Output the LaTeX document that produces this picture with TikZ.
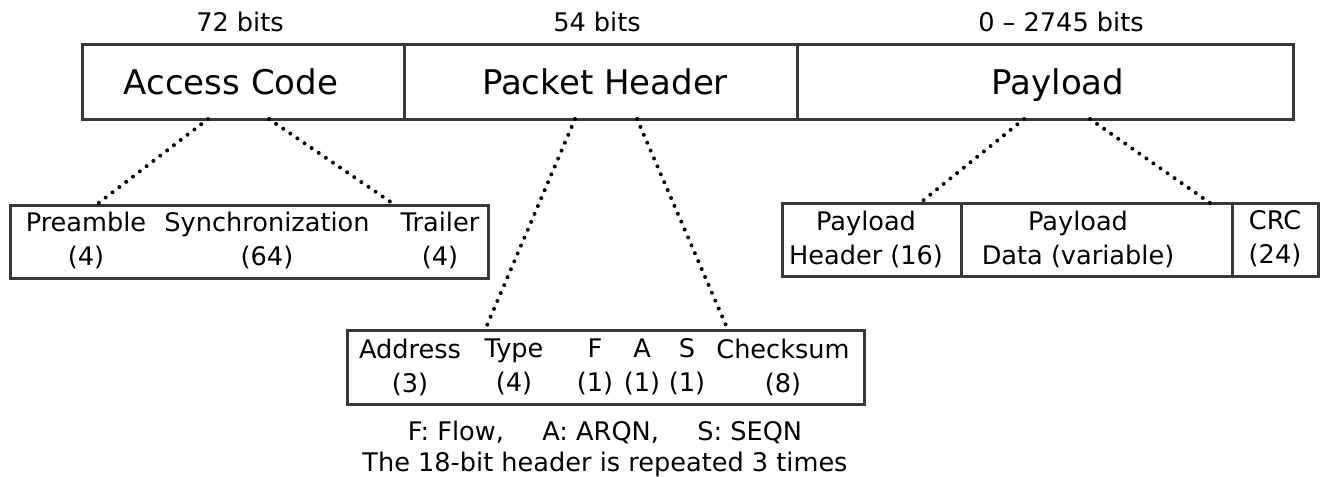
\documentclass[tikz,border=0pt]{standalone}
\usepackage{fontspec}
\setmainfont{DejaVu Sans}
\usetikzlibrary{positioning}

\tikzset{
  cell/.style={draw=black!78, line width=1.5pt, minimum height=37pt, inner sep=0pt},
  field/.style={align=center, font=\fontsize{12.8}{17}\selectfont},
  big/.style={font=\fontsize{17}{20}\selectfont},
  bits/.style={font=\fontsize{12.8}{15}\selectfont},
  note/.style={align=center, font=\fontsize{12.8}{15.2}\selectfont},
  dots/.style={line width=2pt, line cap=round, dash pattern=on 0pt off 4.3pt},
}

\begin{document}
\begin{tikzpicture}[x=0.5pt, y=-0.5pt]
  \useasboundingbox (0,0) rectangle (1320,476);

  %% Top row: the three parts of the packet
  \node[cell, minimum width=161pt]   (ac) at (243,82)    {};
  \node[cell, minimum width=196.5pt] (ph) at (600.5,82)  {};
  \node[cell, minimum width=248pt]   (pl) at (1045,82)   {};
  \node[big, anchor=base] (ac-t) at (231,95)  {Access Code};
  \node[big, anchor=base] (ph-t) at (605,95)  {Packet Header};
  \node[big, anchor=base] (pl-t) at (1058,95) {Payload};

  %% Sizes above the top row
  \node[bits, anchor=base] (ac-n) at (240,32)  {72 bits};
  \node[bits, anchor=base] (ph-n) at (597,32)  {54 bits};
  \node[bits, anchor=base] (pl-n) at (1061,32) {0 -- 2745 bits};

  %% Access code, expanded
  \node[cell, minimum width=239pt, minimum height=36.5pt] (ac-box) at (249,241.5) {};
  \node[field] (pre)  at (86,240)  {Preamble\\(4)};
  \node[field] (sync) at (267,240) {Synchronization\\(64)};
  \node[field] (trl)  at (440,240) {Trailer\\(4)};

  %% Packet header, expanded
  \node[cell, minimum width=258.5pt] (ph-box) at (605.5,367) {};
  \node[field] (addr) at (410,367) {Address\\(3)};
  \node[field] (type) at (514,367) {Type\\(4)};
  \node[field] (flow) at (595,367) {F\\(1)};
  \node[field] (arqn) at (642,367) {A\\(1)};
  \node[field] (seqn) at (687,367) {S\\(1)};
  \node[field] (csum) at (783,367) {Checksum\\(8)};
  \node[note] (ph-note) at (605,449)
    {F: Flow,\hspace{1.5em}A: ARQN,\hspace{1.5em}S: SEQN\\The 18-bit header is repeated 3 times};

  %% Payload, expanded
  \node[cell, minimum width=89.5pt,  minimum height=36.5pt] (pl-hd)  at (871.5,239.5)  {};
  \node[cell, minimum width=135.5pt, minimum height=36.5pt] (pl-dt)  at (1096.5,239.5) {};
  \node[cell, minimum width=43pt,    minimum height=36.5pt] (pl-crc) at (1275,239.5)   {};
  \node[field] (hd-t)  at (866,239)  {Payload\\Header (16)};
  \node[field] (dt-t)  at (1078,239) {Payload\\Data (variable)};
  \node[field] (crc-t) at (1275,239) {CRC\\(24)};

  %% Dotted fans
  \coordinate (ac-l)  at (208,119);  \coordinate (ac-box-l) at (96,205);
  \coordinate (ac-r)  at (269,119);  \coordinate (ac-box-r) at (395,205);
  \coordinate (ph-l)  at (575,119);  \coordinate (ph-box-l) at (485,330);
  \coordinate (ph-r)  at (637,119);  \coordinate (ph-box-r) at (728,330);
  \coordinate (pl-l)  at (1024,119); \coordinate (pl-box-l) at (920,203);
  \coordinate (pl-r)  at (1090,119); \coordinate (pl-box-r) at (1210,203);
  \draw[dots] (ac-l) -- (ac-box-l);
  \draw[dots] (ac-r) -- (ac-box-r);
  \draw[dots] (ph-l) -- (ph-box-l);
  \draw[dots] (ph-r) -- (ph-box-r);
  \draw[dots] (pl-l) -- (pl-box-l);
  \draw[dots] (pl-r) -- (pl-box-r);
\end{tikzpicture}
\end{document}
